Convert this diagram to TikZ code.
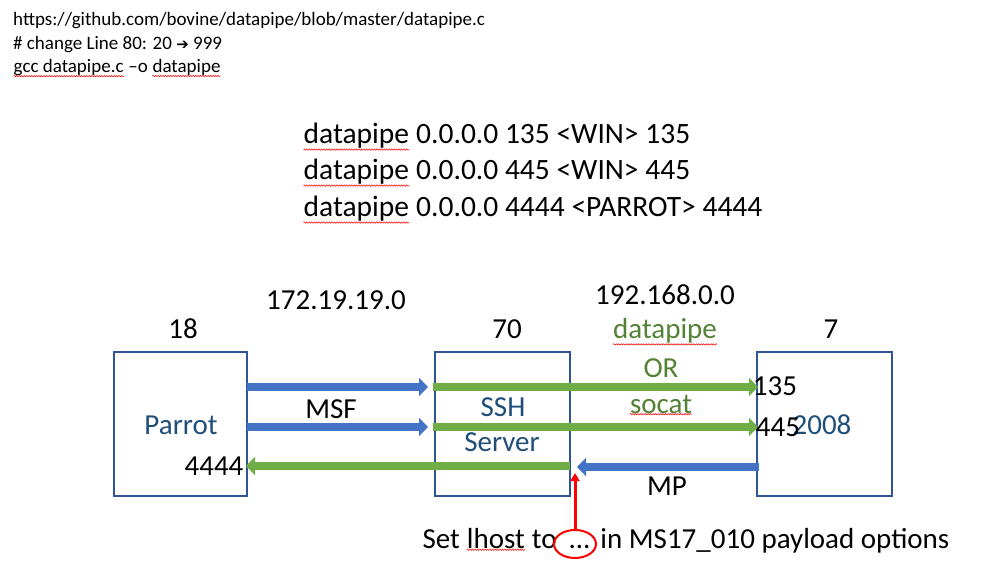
\documentclass[tikz,border=0pt]{standalone}
\usepackage{fontspec}
\setmainfont{Carlito}
\newfontfamily\symfont{DejaVu Sans}
\usetikzlibrary{arrows.meta,shapes.geometric,decorations.pathmorphing}
\definecolor{boxblue}{HTML}{2F5597}
\definecolor{txtblue}{HTML}{1F4E79}
\definecolor{arrblue}{HTML}{4472C4}
\definecolor{arrgreen}{HTML}{70AD47}
\definecolor{txtgreen}{HTML}{548235}
\newcommand{\squig}[1]{\tikz[baseline=(sqw.base),x=1pt,y=1pt]{\node[inner sep=0pt] (sqw) {#1};
  \draw[red,line width=0.5pt,decorate,decoration={snake,segment length=2.5pt,amplitude=0.7pt}]
    ([yshift=-0.6pt]sqw.south west) -- ([yshift=-0.6pt]sqw.south east);}}
\begin{document}
\begin{tikzpicture}[x=1pt,y=-1pt,
  hostbox/.style={draw=boxblue,line width=2.5pt,minimum height=144pt,inner sep=0pt},
  small/.style={font=\fontsize{19}{23}\selectfont,inner sep=0pt,anchor=west},
  big/.style={font=\fontsize{29.5}{34}\selectfont,inner sep=0pt,anchor=west},
  lbl/.style={font=\fontsize{29}{34}\selectfont,inner sep=0pt},
  hostlbl/.style={font=\fontsize{29}{34}\selectfont,inner sep=0pt,text=txtblue},
  greenlbl/.style={font=\fontsize{29}{34}\selectfont,inner sep=0pt,text=txtgreen},
  fatblue/.style={draw=arrblue,line width=8pt,-{Triangle[length=9pt,width=18pt]}},
  fatgreen/.style={draw=arrgreen,line width=8pt,-{Triangle[length=9pt,width=18pt]}},
  redarrow/.style={draw=red,line width=3pt,-{Triangle[length=8pt,width=9pt]}},
  redring/.style={draw=red,line width=2pt,ellipse,minimum width=42pt,minimum height=28pt,inner sep=0pt}
]
\useasboundingbox[fill=white] (0,0) rectangle (1002,562);

% top notes
\node[small] (n1) at (13,21) {https://github.com/bovine/datapipe/blob/master/datapipe.c};
\node[small] (n2) at (13,45) {\# change Line 80: 20 {\symfont\fontsize{15}{18}\selectfont ➔} 999};
\node[small] (n3) at (13,68) {\squig{gcc datapipe.c} –o \squig{datapipe}};

% commands
\node[big] (c1) at (303,137) {\squig{datapipe} 0.0.0.0 135 <WIN> 135};
\node[big] (c2) at (303,173) {\squig{datapipe} 0.0.0.0 445 <WIN> 445};
\node[big] (c3) at (303,210) {\squig{datapipe} 0.0.0.0 4444 <PARROT> 4444};

% hosts
\node[hostbox,minimum width=133pt] (parrot) at (180.5,424) {};
\node[hostbox,minimum width=135pt] (ssh) at (502.5,424) {};
\node[hostbox,minimum width=135pt] (win) at (824.5,424) {};

% arrow end points
\coordinate (b1s) at (247,387); \coordinate (b1e) at (428,387);
\coordinate (b2s) at (247,427); \coordinate (b2e) at (428,427);
\coordinate (g1s) at (433,387); \coordinate (g1e) at (758,387);
\coordinate (g2s) at (433,427); \coordinate (g2e) at (758,427);
\coordinate (g3s) at (570,466); \coordinate (g3e) at (246,466);
\coordinate (mps) at (759,467); \coordinate (mpe) at (577,467);

\draw[fatblue] (b1s) -- (b1e);
\draw[fatblue] (b2s) -- (b2e);
\draw[fatgreen] (g1s) -- (g1e);
\draw[fatgreen] (g2s) -- (g2e);
\draw[fatgreen] (g3s) -- (g3e);
\draw[fatblue] (mps) -- (mpe);

% labels
\node[lbl] (l18) at (183,329) {18};
\node[lbl] (l70) at (507,329) {70};
\node[lbl] (l7) at (831,329) {7};
\node[lbl] (net1) at (336,300) {172.19.19.0};
\node[lbl] (net2) at (665,295) {192.168.0.0};
\node[greenlbl] (dp) at (665,332) {\squig{datapipe}};
\node[greenlbl] (or) at (661,368) {OR};
\node[greenlbl] (socat) at (661,405) {\squig{socat}};
\node[lbl] (msf) at (331,409) {MSF};
\node[hostlbl] (parrotlbl) at (181,425) {Parrot};
\node[hostlbl] (sshlbl1) at (503,407) {SSH};
\node[hostlbl] (sshlbl2) at (502,442) {Server};
\node[hostlbl] (winlbl) at (822,425) {2008};
\node[lbl] (p4444) at (214,466) {4444};
\node[lbl] (p135) at (775,386) {135};
\node[lbl] (p445) at (778,427) {445};
\node[lbl] (mp) at (667,486) {MP};

% bottom note
\node[font=\fontsize{29}{34}\selectfont,inner sep=0pt] (note) at (686,541) {Set \squig{lhost} to\hspace{12pt}...\hspace{10pt}in MS17\_010 payload options};
\node[redring] (ring) at (575,544) {};
\coordinate (redtip) at (575,473);
\draw[redarrow] (ring.north) -- (redtip);
\end{tikzpicture}
\end{document}
